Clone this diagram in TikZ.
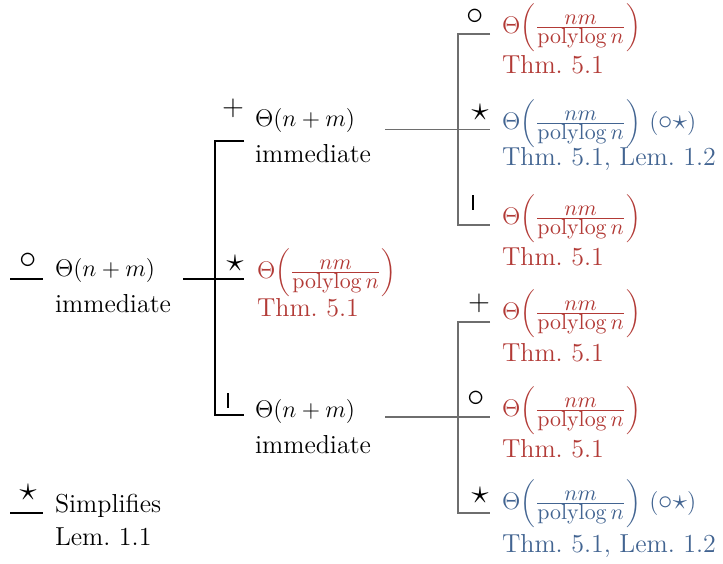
\documentclass[tikz,border=0pt]{standalone}
\usepackage{xcolor}
\definecolor{thmred}{RGB}{178,58,54}
\definecolor{thmblue}{RGB}{66,100,145}
\definecolor{edgegray}{RGB}{110,110,110}
\newcommand{\smallm}[1]{\mbox{\fontsize{11}{12}\selectfont$#1$}}
\newcommand{\plfrac}{\Theta\mathopen{}\left(\frac{\smallm{nm}}{\smallm{\mathrm{polylog}\,n}}\right)}
\newcommand{\mkbar}{\rule{0.9pt}{7.5pt}}
\newcommand{\ckstar}{$(\mbox{\fontsize{15}{18}\selectfont$\circ\star$})$}
\begin{document}
\begin{tikzpicture}[x=0.5pt,y=-0.5pt,
  every node/.style={inner sep=0pt,outer sep=0pt,font=\fontsize{13}{16}\selectfont\frenchspacing},
  txt/.style={anchor=base west},
  mk/.style={anchor=center,font=\fontsize{17}{18}\selectfont},
  mkp/.style={anchor=center,font=\fontsize{14}{16}\selectfont},
  redt/.style={text=thmred},
  bluet/.style={text=thmblue},
  blk/.style={draw=black,line width=0.6pt},
  gry/.style={draw=edgegray,line width=0.6pt}]
\useasboundingbox (0,0) rectangle (723,563);

% ---- root
\node[mk] (m0) at (28,261) {$\circ$};
\node[txt] (r1) at (55,276) {$\Theta(n+m)$};
\node[txt] (r2) at (55,312) {immediate};
\coordinate (r-in) at (10,279);
\coordinate (r-l) at (43,279);
\coordinate (r-out) at (183,279);
\coordinate (b1) at (215,279);

% ---- level 1
\node[mkp] (m1) at (233,108) {$+$};
\node[txt] (a1) at (255,126) {$\Theta(n+m)$};
\node[txt] (a2) at (255,162) {immediate};
\node[mk] (m2) at (235,263) {$\star$};
\node[txt,redt] (s1) at (257,278.5) {$\plfrac$};
\node[txt,redt] (s2) at (257,316) {Thm. 5.1};
\node[mk] (m3) at (228,400) {\mkbar};
\node[txt] (c1) at (255,417) {$\Theta(n+m)$};
\node[txt] (c2) at (255,453) {immediate};
\coordinate (b1t) at (215,141);
\coordinate (b1b) at (215,415);
\coordinate (a-l) at (244,141);
\coordinate (s-l) at (244,279);
\coordinate (c-l) at (244,415);

% ---- level 2, upper
\coordinate (a-out) at (385,129.5);
\coordinate (b2) at (458,129.5);
\coordinate (b2t) at (458,34);
\coordinate (b2b) at (458,225);
\node[mk] (m4) at (475,17) {$\circ$};
\node[txt,redt] (g1) at (502,33.5) {$\plfrac$};
\node[txt,redt] (g1b) at (502,73) {Thm. 5.1};
\node[mk] (m5) at (480,112) {$\star$};
\node[txt,bluet] (g2) at (502,129.5) {$\plfrac$ \ckstar};
\node[txt,bluet] (g2b) at (502,165) {Thm. 5.1, Lem. 1.2};
\node[mk] (m6) at (473,202) {\mkbar};
\node[txt,redt] (g3) at (502,224.5) {$\plfrac$};
\node[txt,redt] (g3b) at (502,265) {Thm. 5.1};
\coordinate (g1-l) at (490,34);
\coordinate (g2-l) at (490,129.5);
\coordinate (g3-l) at (490,225);

% ---- level 2, lower
\coordinate (c-out) at (385,417);
\coordinate (b3) at (458,417);
\coordinate (b3t) at (458,322);
\coordinate (b3b) at (458,513);
\node[mkp] (m7) at (479,303) {$+$};
\node[txt,redt] (g4) at (502,319.5) {$\plfrac$};
\node[txt,redt] (g4b) at (502,361) {Thm. 5.1};
\node[mk] (m8) at (476,399) {$\circ$};
\node[txt,redt] (g5) at (502,416.5) {$\plfrac$};
\node[txt,redt] (g5b) at (502,457) {Thm. 5.1};
\node[mk] (m9) at (480,495) {$\star$};
\node[txt,bluet] (g6) at (502,509.5) {$\plfrac$ \ckstar};
\node[txt,bluet] (g6b) at (502,552) {Thm. 5.1, Lem. 1.2};
\coordinate (g4-l) at (490,322);
\coordinate (g5-l) at (490,417);
\coordinate (g6-l) at (490,513);

% ---- legend
\node[mk] (m10) at (28,492) {$\star$};
\node[txt] (l1) at (55,512) {Simplifies};
\node[txt] (l2) at (55,545) {Lem. 1.1};
\coordinate (l-in) at (10,513);
\coordinate (l-l) at (43,513);

% ---- connectors
\path[blk] (r-in) -- (r-l);
\path[blk] (r-out) -- (b1);
\path[blk] (a-l) -- (b1t) -- (b1b) -- (c-l);
\path[blk] (b1) -- (s-l);
\path[gry] (a-out) -- (b2);
\path[gry] (g1-l) -- (b2t) -- (b2b) -- (g3-l);
\path[gry] (b2) -- (g2-l);
\path[gry] (c-out) -- (b3);
\path[gry] (g4-l) -- (b3t) -- (b3b) -- (g6-l);
\path[gry] (b3) -- (g5-l);
\path[blk] (l-in) -- (l-l);
\end{tikzpicture}
\end{document}
